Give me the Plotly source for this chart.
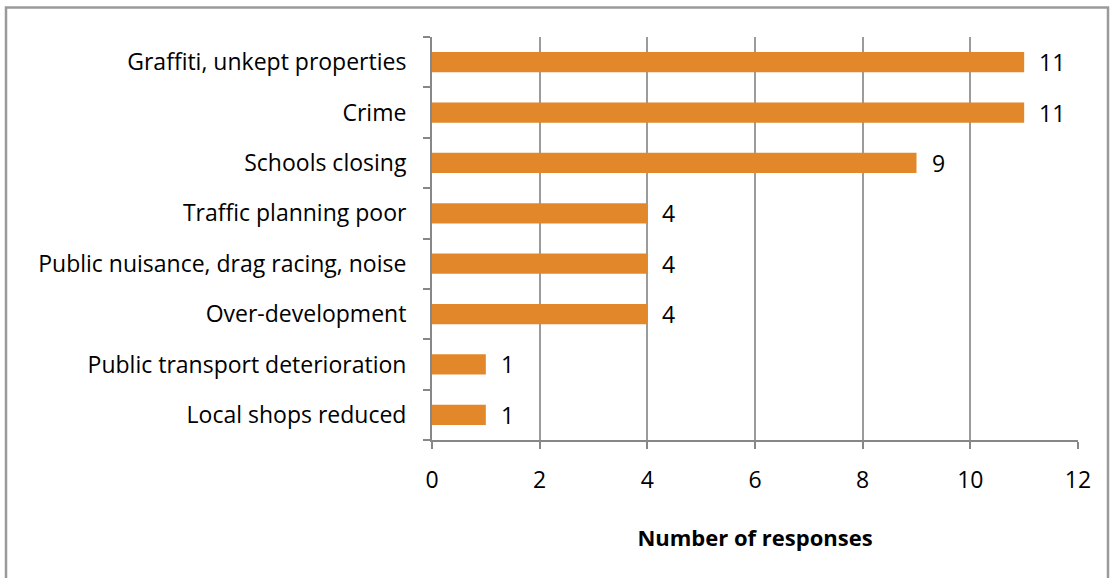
import plotly.graph_objects as go

categories = [
    "Local shops reduced",
    "Public transport deterioration",
    "Over-development",
    "Public nuisance, drag racing, noise",
    "Traffic planning poor",
    "Schools closing",
    "Crime",
    "Graffiti, unkept properties",
]
responses = [1, 1, 4, 4, 4, 9, 11, 11]
x_ticks = [0, 2, 4, 6, 8, 10, 12]

W, H = 1112, 578
ML, MR, MT, MB = 432, 34, 37, 138
PW, PH = W - ML - MR, H - MT - MB

FONT = "Open Sans"
FS = 23
BAR = "#E2882A"
AXIS = "#878787"
GRID = "#9B9B9B"

fig = go.Figure(
    go.Bar(
        y=categories,
        x=responses,
        orientation="h",
        marker=dict(color=BAR, line=dict(width=0)),
        hoverinfo="skip",
    )
)

# value labels just past the end of each bar
for cat, val in zip(categories, responses):
    fig.add_annotation(
        x=val, y=cat, text=str(val), showarrow=False,
        xanchor="left", xshift=13,
        font=dict(family=FONT, size=FS, color="#000000"),
    )

# outer chart frame (bottom edge runs off the page)
def px_to_paper_x(px):
    return (px - ML) / PW

def px_to_paper_y(py):
    return (H - MB - py) / PH

fig.add_shape(
    type="rect", xref="paper", yref="paper",
    x0=px_to_paper_x(6), x1=px_to_paper_x(1108),
    y0=px_to_paper_y(620), y1=px_to_paper_y(7.5),
    line=dict(color="#9A9A9A", width=2.5), fillcolor="rgba(0,0,0,0)",
    layer="below",
)

fig.update_layout(
    width=W, height=H,
    margin=dict(l=ML, r=MR, t=MT, b=MB, pad=0),
    paper_bgcolor="white", plot_bgcolor="white",
    bargap=0.6,
    showlegend=False,
    font=dict(family=FONT, size=FS, color="#000000"),
    xaxis=dict(
        range=[0, 12], tickvals=x_ticks, ticktext=[str(v) for v in x_ticks],
        showgrid=True, gridcolor=GRID, gridwidth=1.5,
        showline=True, linecolor=AXIS, linewidth=2,
        ticks="outside", ticklen=7, tickcolor=AXIS, tickwidth=1.5,
        ticklabelstandoff=11,
        zeroline=False, fixedrange=True,
        title=dict(text="<b>Number of responses</b>", font=dict(family=FONT, size=22), standoff=37),
    ),
    yaxis=dict(
        categoryorder="array", categoryarray=categories,
        showline=True, linecolor=AXIS, linewidth=2,
        ticks="outside", ticklen=7, tickcolor=AXIS, tickwidth=1.5,
        tickson="boundaries", ticklabelstandoff=19,
        showgrid=False, zeroline=False, fixedrange=True,
    ),
)

fig.write_html("out.html")
